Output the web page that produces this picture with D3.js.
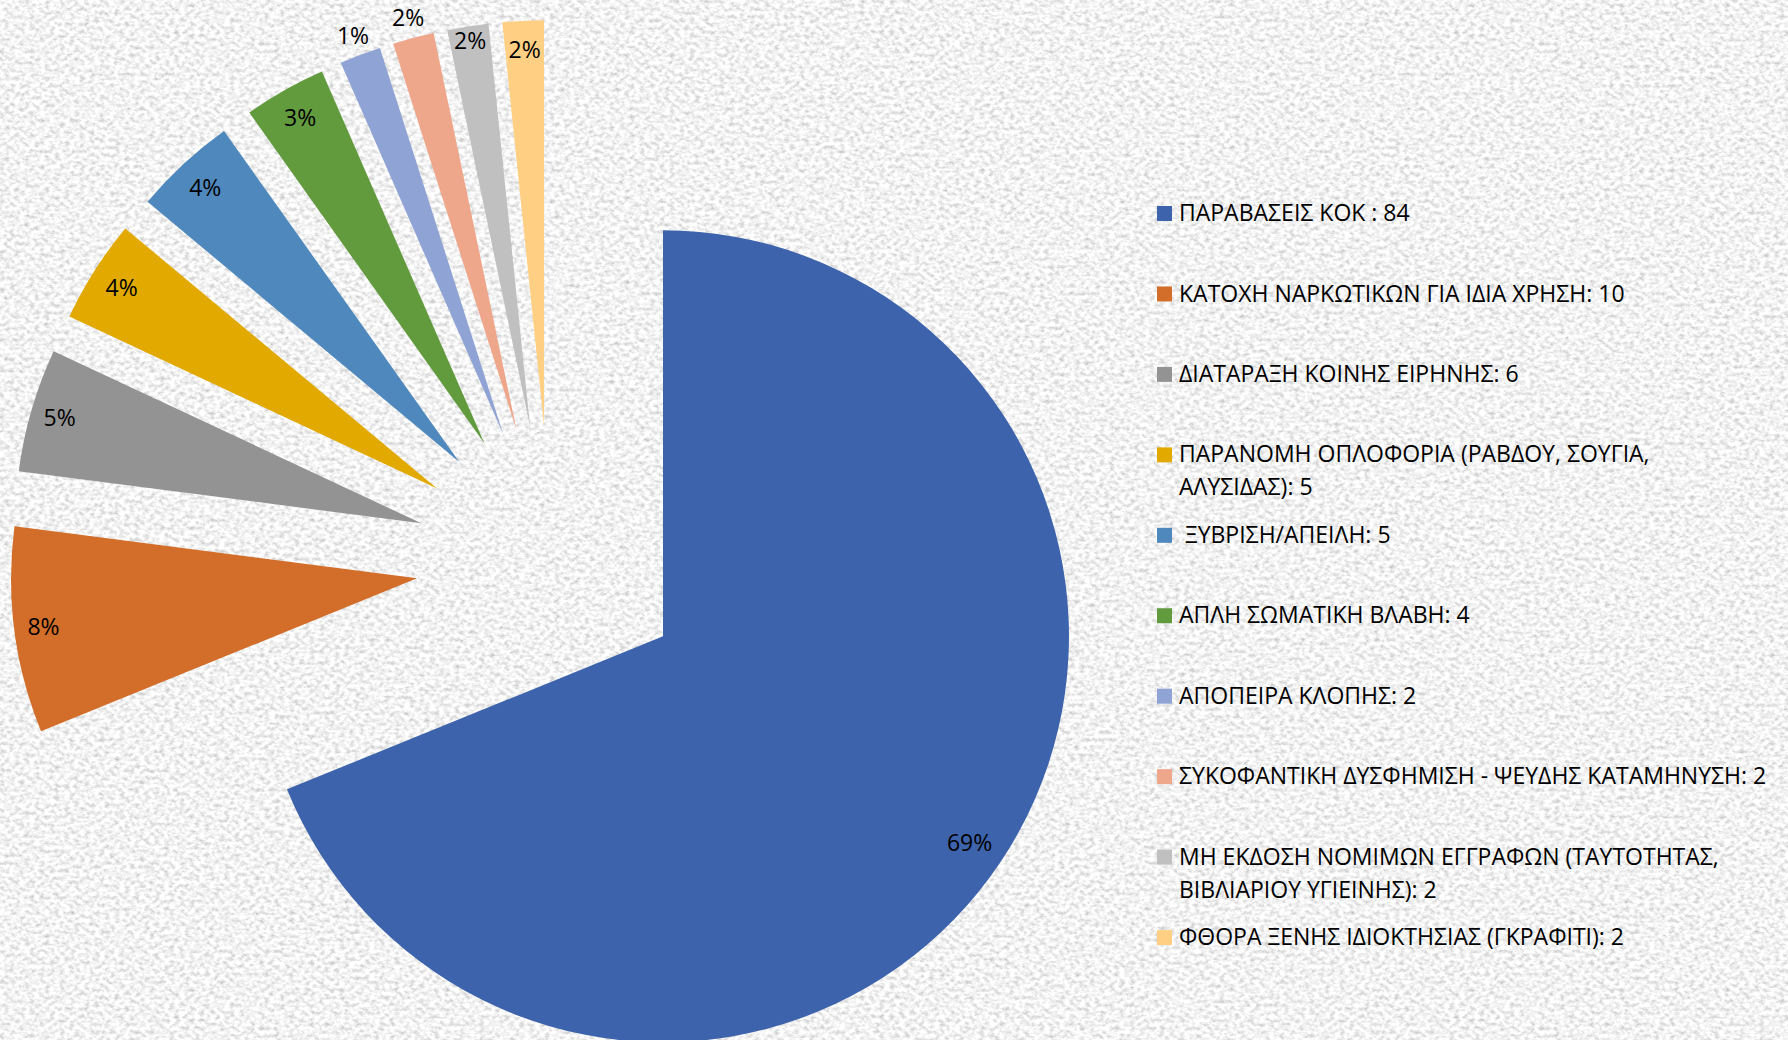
<!DOCTYPE html>
<html>
<head>
<meta charset="utf-8">
<script src="https://cdn.jsdelivr.net/npm/d3@7"></script>
<style>
  body { margin: 0; background: #ebebeb; }
  svg text { font-family: "Open Sans", sans-serif; fill: #000; }
</style>
</head>
<body>
<div id="chart"></div>
<script>
// category names as they appear in the legend
const categories = [
  "ΠΑΡΑΒΑΣΕΙΣ ΚΟΚ : 84",
  "ΚΑΤΟΧΗ ΝΑΡΚΩΤΙΚΩΝ ΓΙΑ ΙΔΙΑ ΧΡΗΣΗ: 10",
  "ΔΙΑΤΑΡΑΞΗ ΚΟΙΝΗΣ ΕΙΡΗΝΗΣ: 6",
  "ΠΑΡΑΝΟΜΗ ΟΠΛΟΦΟΡΙΑ (ΡΑΒΔΟΥ, ΣΟΥΓΙΑ, ΑΛΥΣΙΔΑΣ): 5",
  " ΞΥΒΡΙΣΗ/ΑΠΕΙΛΗ: 5",
  "ΑΠΛΗ ΣΩΜΑΤΙΚΗ ΒΛΑΒΗ: 4",
  "ΑΠΟΠΕΙΡΑ ΚΛΟΠΗΣ: 2",
  "ΣΥΚΟΦΑΝΤΙΚΗ ΔΥΣΦΗΜΙΣΗ - ΨΕΥΔΗΣ ΚΑΤΑΜΗΝΥΣΗ: 2",
  "ΜΗ ΕΚΔΟΣΗ ΝΟΜΙΜΩΝ ΕΓΓΡΑΦΩΝ (ΤΑΥΤΟΤΗΤΑΣ, ΒΙΒΛΙΑΡΙΟΥ ΥΓΙΕΙΝΗΣ): 2",
  "ΦΘΟΡΑ ΞΕΝΗΣ ΙΔΙΟΚΤΗΣΙΑΣ (ΓΚΡΑΦΙΤΙ): 2"
];
const values = [84, 10, 6, 5, 5, 4, 2, 2, 2, 2];
// data labels as printed on the slices
const percentLabels = ["69%", "8%", "5%", "4%", "4%", "3%", "1%", "2%", "2%", "2%"];

const colors = ["#3d63ac", "#d36d2a", "#939393", "#e2aa00", "#4f88bd",
                "#629a3e", "#8fa3d4", "#efa78b", "#c0c0c0", "#ffd084"];

var width = 1788, height = 1040;
var cx = 551, cy = 561, radius = 406, explode = 135;
// how far out each data label sits (fraction of radius, from the slice tip)
var labelR = [0.91, 0.928, 0.928, 0.921, 0.921, 0.922, 1.05, 1.05, 0.963, 0.928];

var svg = d3.select("#chart").append("svg")
    .attr("width", width)
    .attr("height", height);

// speckled stone background
var defs = svg.append("defs");
var f = defs.append("filter").attr("id", "stone")
    .attr("x", 0).attr("y", 0).attr("width", "100%").attr("height", "100%");
f.append("feTurbulence")
    .attr("type", "fractalNoise")
    .attr("baseFrequency", "0.2 0.26")
    .attr("numOctaves", 3)
    .attr("seed", 7)
    .attr("result", "noise");
f.append("feColorMatrix")
    .attr("in", "noise")
    .attr("type", "matrix")
    .attr("values", "0.85 0 0 0 0.47  0.85 0 0 0 0.47  0.85 0 0 0 0.47  0 0 0 0 1");
svg.append("rect")
    .attr("width", width).attr("height", height)
    .attr("fill", "#ebebeb")
    .attr("filter", "url(#stone)");

var pie = d3.pie().sort(null).value(function (d) { return d; });
var arc = d3.arc().innerRadius(0).outerRadius(radius);
var arcs = pie(values);

function offset(d, r) {
    var a = (d.startAngle + d.endAngle) / 2;
    return [Math.sin(a) * r, -Math.cos(a) * r];
}

var g = svg.append("g")
    .attr("transform", "translate(" + cx + "," + cy + ")");

var slices = g.selectAll(".slice")
    .data(arcs)
    .enter()
    .append("g")
    .attr("class", "slice")
    .attr("transform", function (d) {
        var o = offset(d, explode);
        return "translate(" + o[0] + "," + o[1] + ")";
    });

slices.append("path")
    .attr("d", arc)
    .attr("fill", function (d, i) { return colors[i]; });

slices.append("text")
    .attr("transform", function (d, i) {
        var o = offset(d, radius * labelR[i]);
        return "translate(" + o[0] + "," + o[1] + ")";
    })
    .attr("text-anchor", "middle")
    .attr("dy", "0.35em")
    .style("font-size", "23px")
    .text(function (d, i) { return percentLabels[i]; });

// legend
var legX = 1157, legY = 213, rowH = 80.45, lineH = 33, maxW = 589;
var legend = svg.append("g").attr("class", "legend");

var items = legend.selectAll(".item")
    .data(categories)
    .enter()
    .append("g")
    .attr("class", "item")
    .attr("transform", function (d, i) { return "translate(" + legX + "," + (legY + i * rowH) + ")"; });

items.append("rect")
    .attr("x", 0).attr("y", -7)
    .attr("width", 15).attr("height", 15)
    .attr("fill", function (d, i) { return colors[i]; });

//wrap long legend entries onto a second line
items.append("text")
    .attr("x", 22)
    .style("font-size", "23px")
    .style("white-space", "pre")
    .each(function (d) {
        var t = d3.select(this);
        var words = d.split(" ");
        var line = [], lineNo = 0;
        var span = t.append("tspan").attr("x", 22).attr("y", 0).attr("dy", "0.35em");
        words.forEach(function (w) {
            line.push(w);
            span.text(line.join(" "));
            if (span.node().getComputedTextLength() > maxW && line.length > 1) {
                line.pop();
                span.text(line.join(" "));
                line = [w];
                lineNo++;
                span = t.append("tspan").attr("x", 22).attr("y", lineNo * lineH).attr("dy", "0.35em").text(w);
            }
        });
    });
</script>
</body>
</html>
